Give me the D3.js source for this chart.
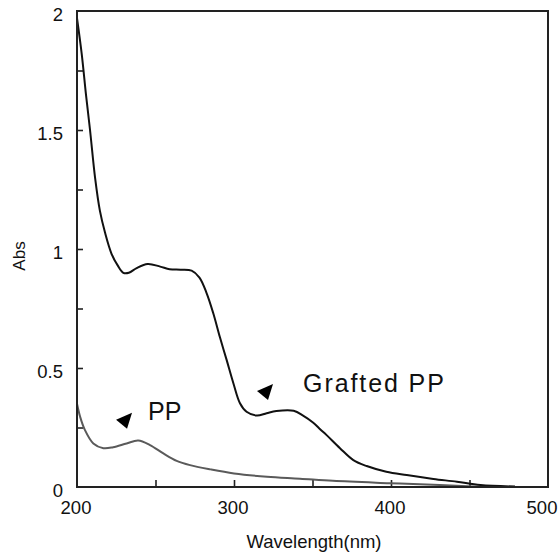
<!DOCTYPE html>
<html>
<head>
<meta charset="utf-8">
<script src="https://cdn.jsdelivr.net/npm/d3@7/dist/d3.min.js"></script>
<style>
  html, body { margin: 0; padding: 0; background: #fff; }
  svg { display: block; font-family: "Liberation Sans", Arial, Helvetica, sans-serif; }
</style>
</head>
<body>
<svg id="chart" width="558" height="553"></svg>
<script>
// ---- data ----
const graftedWl  = [200, 203, 205.7, 208.3, 211.5, 214.6, 217.8, 222, 226, 229.5, 233, 238, 245, 253, 259, 266, 273, 278, 282.6, 286.8, 291, 295.3, 299.6, 303.8, 308, 314.5, 320.8, 327, 338, 344, 350.5, 355, 359, 367.5, 376, 384.5, 397, 410, 427, 442, 457, 479];
const graftedAbs = [1.97, 1.82, 1.65, 1.50, 1.30, 1.16, 1.07, 0.98, 0.93, 0.90, 0.90, 0.92, 0.937, 0.926, 0.915, 0.913, 0.909, 0.88, 0.814, 0.73, 0.63, 0.534, 0.436, 0.352, 0.316, 0.30, 0.31, 0.319, 0.32, 0.30, 0.27, 0.242, 0.218, 0.163, 0.113, 0.088, 0.064, 0.050, 0.034, 0.022, 0.008, 0.002];
const ppWl  = [200, 202, 205, 210.4, 216.8, 223, 231.6, 239, 246.5, 255, 263.5, 272, 285, 300, 321, 342, 363, 399, 431, 452, 462];
const ppAbs = [0.35, 0.295, 0.24, 0.183, 0.163, 0.167, 0.183, 0.195, 0.176, 0.141, 0.11, 0.092, 0.074, 0.057, 0.043, 0.035, 0.026, 0.016, 0.008, 0.002, 0.0];
const xTickLabels = [200, 300, 400, 500];
const yTickLabels = [0, 0.5, 1, 1.5, 2];
const xMinorTicks = [250, 300, 350, 400, 450];
const yMinorTicks = [0.25, 0.5, 0.75, 1, 1.25, 1.5, 1.75];
const annotations = [
  { label: "PP", arrowWl: 230.6, arrowAbs: 0.28, textWl: 245.2, textAbs: 0.282 },
  { label: "Grafted PP", arrowWl: 320.4, arrowAbs: 0.40, textWl: 344, textAbs: 0.40 }
];

// ---- layout ----
const W = 558, H = 553;
const margin = { top: 11, right: 10, bottom: 66, left: 77 };
const iw = W - margin.left - margin.right;
const ih = H - margin.top - margin.bottom;

const svg = d3.select("#chart");
const g = svg.append("g").attr("transform", `translate(${margin.left},${margin.top})`);

const x = d3.scaleLinear().domain([200, 500]).range([0, iw]);
const y = d3.scaleLinear().domain([0, 2]).range([ih, 0]);

// ticks (inward)
g.append("g").attr("transform", `translate(0,${ih})`)
  .call(d3.axisBottom(x).tickValues(xMinorTicks).tickSize(-7).tickFormat(""))
  .call(s => s.select(".domain").remove())
  .call(s => s.selectAll("line").attr("stroke", "#222").attr("stroke-width", 1.6));
g.append("g")
  .call(d3.axisLeft(y).tickValues(yMinorTicks).tickSize(-6).tickFormat(""))
  .call(s => s.select(".domain").remove())
  .call(s => s.selectAll("line").attr("stroke", "#222").attr("stroke-width", 1.6));

// tick labels
g.append("g").selectAll("text").data(xTickLabels).join("text")
  .attr("x", d => x(d) + (d === 500 ? -6 : -1))
  .attr("y", ih + 27)
  .attr("text-anchor", "middle")
  .attr("font-size", 18.5)
  .attr("fill", "#111")
  .text(d => d);
g.append("g").selectAll("text").data(yTickLabels).join("text")
  .attr("x", -14)
  .attr("y", d => y(d) + 10)
  .attr("text-anchor", "end")
  .attr("font-size", 18.5)
  .attr("fill", "#111")
  .text(d => d);

// lines
const line = d3.line().x(d => x(d[0])).y(d => y(d[1])).curve(d3.curveCatmullRom.alpha(0.5));
g.append("path")
  .datum(ppWl.map((w, i) => [w, ppAbs[i]]))
  .attr("d", line).attr("fill", "none").attr("stroke", "#5a5a5a").attr("stroke-width", 2);
g.append("path")
  .datum(graftedWl.map((w, i) => [w, graftedAbs[i]]))
  .attr("d", line).attr("fill", "none").attr("stroke", "#111").attr("stroke-width", 2);

// frame
g.append("rect").attr("x", 0).attr("y", 0).attr("width", iw).attr("height", ih)
  .attr("fill", "none").attr("stroke", "#222").attr("stroke-width", 2);

// annotations
const tri = "M-9,-0.7 L7,-7.7 L2,8.3 Z";
annotations.forEach(a => {
  g.append("path").attr("d", tri)
    .attr("transform", `translate(${x(a.arrowWl)},${y(a.arrowAbs)})`)
    .attr("fill", "#000");
  g.append("text")
    .attr("x", x(a.textWl)).attr("y", y(a.textAbs))
    .attr("font-size", 25)
    .attr("letter-spacing", a.label.length > 2 ? 1.9 : 0)
    .attr("fill", "#111")
    .text(a.label);
});

// axis titles
svg.append("text")
  .attr("x", 314).attr("y", 548)
  .attr("text-anchor", "middle").attr("font-size", 18.5).attr("fill", "#111")
  .text("Wavelength(nm)");
svg.append("text")
  .attr("transform", `translate(25,256) rotate(-90)`)
  .attr("text-anchor", "middle").attr("font-size", 17).attr("fill", "#111")
  .text("Abs");
</script>
</body>
</html>
